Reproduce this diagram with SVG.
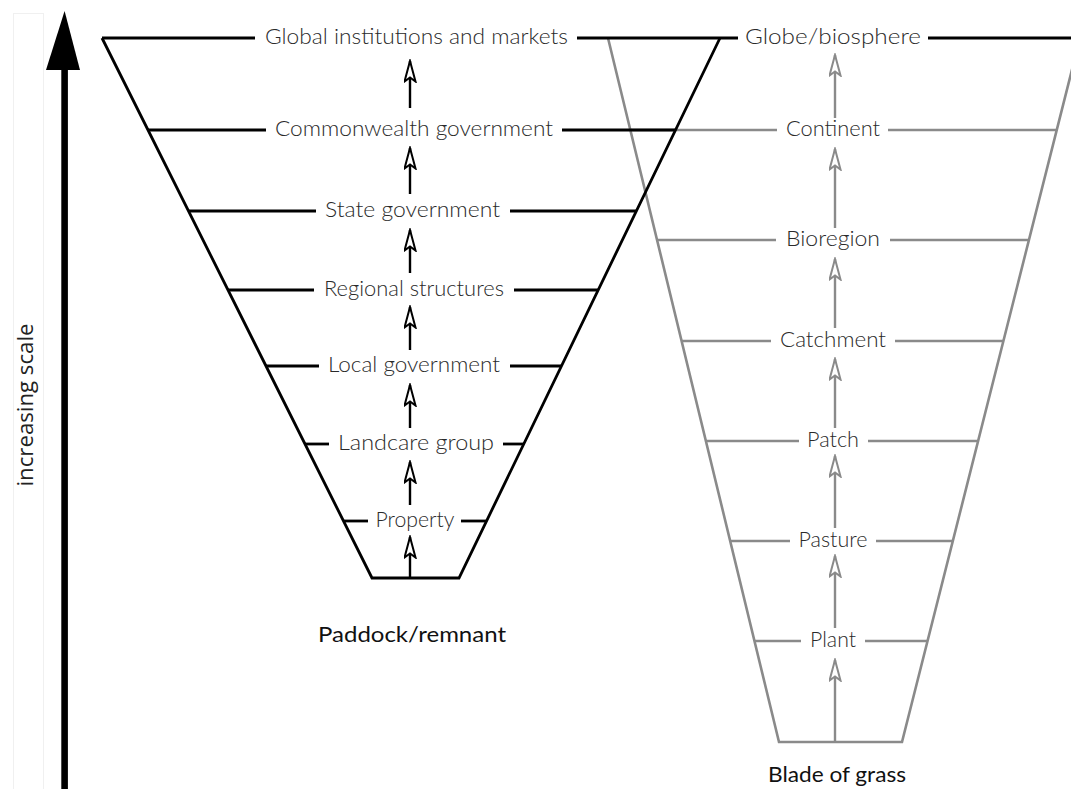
<svg xmlns="http://www.w3.org/2000/svg" width="1071" height="789" viewBox="0 0 1071 789">
  <defs>
    <style>
      .blk { stroke: #000; stroke-width: 2.8; fill: none; }
      .gry { stroke: #8a8a8a; stroke-width: 2.6; fill: none; }
      .lvl { font-family: Lato, "Open Sans", "Liberation Sans", sans-serif; font-weight: 300; font-size: 22px; fill: #2a2a2a; text-anchor: middle; }
      .cap { font-family: Lato, "Open Sans", "Liberation Sans", sans-serif; font-weight: 400; font-size: 21px; fill: #111; text-anchor: middle; }
      .axis { font-family: "Open Sans", "Liberation Sans", sans-serif; font-size: 22px; fill: #222; text-anchor: middle; }
      .ablk { stroke: #000; stroke-width: 2.4; fill: none; marker-end: url(#headBlk); }
      .agry { stroke: #8a8a8a; stroke-width: 2.4; fill: none; marker-end: url(#headGry); }
    </style>
    <!-- open, notched arrowheads -->
    <marker id="headBlk" viewBox="0 0 24 13" refX="22" refY="6.5" markerWidth="24" markerHeight="13" markerUnits="userSpaceOnUse" orient="auto">
      <path d="M22,6.5 L1.5,1 L5.5,6.5 L1.5,12 Z" fill="#fff" stroke="#000" stroke-width="2" stroke-linejoin="miter"/>
    </marker>
    <marker id="headGry" viewBox="0 0 24 13" refX="22" refY="6.5" markerWidth="24" markerHeight="13" markerUnits="userSpaceOnUse" orient="auto">
      <path d="M22,6.5 L1.5,1 L5.5,6.5 L1.5,12 Z" fill="#fff" stroke="#8a8a8a" stroke-width="2" stroke-linejoin="miter"/>
    </marker>
  </defs>

  <rect width="1071" height="789" fill="#fff"/>

  <!-- scale axis -->
  <g id="scale-axis">
    <rect x="13.5" y="13.5" width="30" height="790" fill="none" stroke="#f0f0f0" stroke-width="1"/>
    <rect x="61.3" y="66" width="6.6" height="723" fill="#000"/>
    <polygon points="64.6,11 80,70 46,70" fill="#000"/>
    <text class="axis" transform="translate(33,405) rotate(-90)" textLength="163" lengthAdjust="spacingAndGlyphs">increasing scale</text>
  </g>

  <!-- ecological scale funnel (grey) -->
  <g id="eco-funnel">
    <polyline class="gry" points="608,38 779,742 902,742 1080,38"/>
  </g>
  <g id="eco-continent">
    <line class="gry" x1="630" y1="130" x2="777" y2="130"/>
    <line class="gry" x1="888" y1="130" x2="1057" y2="130"/>
    <text class="lvl" x="833" y="136" textLength="94" lengthAdjust="spacingAndGlyphs">Continent</text>
  </g>
  <g id="eco-bioregion">
    <line class="gry" x1="657" y1="240" x2="776" y2="240"/>
    <line class="gry" x1="890" y1="240" x2="1029" y2="240"/>
    <text class="lvl" x="833" y="246" textLength="94" lengthAdjust="spacingAndGlyphs">Bioregion</text>
  </g>
  <g id="eco-catchment">
    <line class="gry" x1="682" y1="341" x2="771" y2="341"/>
    <line class="gry" x1="895" y1="341" x2="1003" y2="341"/>
    <text class="lvl" x="833" y="347" textLength="106" lengthAdjust="spacingAndGlyphs">Catchment</text>
  </g>
  <g id="eco-patch">
    <line class="gry" x1="706" y1="441" x2="799" y2="441"/>
    <line class="gry" x1="868" y1="441" x2="978" y2="441"/>
    <text class="lvl" x="833" y="447" textLength="52" lengthAdjust="spacingAndGlyphs">Patch</text>
  </g>
  <g id="eco-pasture">
    <line class="gry" x1="730" y1="541" x2="790" y2="541"/>
    <line class="gry" x1="876" y1="541" x2="952" y2="541"/>
    <text class="lvl" x="833" y="547" textLength="69" lengthAdjust="spacingAndGlyphs">Pasture</text>
  </g>
  <g id="eco-plant">
    <line class="gry" x1="754" y1="641" x2="801" y2="641"/>
    <line class="gry" x1="865" y1="641" x2="927" y2="641"/>
    <text class="lvl" x="833" y="647" textLength="46" lengthAdjust="spacingAndGlyphs">Plant</text>
  </g>
  <g id="eco-blade">
    <text class="cap" x="837" y="782" textLength="138" lengthAdjust="spacingAndGlyphs">Blade of grass</text>
  </g>

  <!-- governance scale funnel (black) -->
  <g id="gov-funnel">
    <polyline class="blk" points="720,38 459,578 372,578 102,38"/>
  </g>
  <g id="gov-global">
    <line class="blk" x1="102" y1="38" x2="255" y2="38"/>
    <line class="blk" x1="577" y1="38" x2="738" y2="38"/>
    <text class="lvl" x="416.5" y="44" textLength="303" lengthAdjust="spacingAndGlyphs">Global institutions and markets</text>
  </g>
  <g id="eco-globe">
    <line class="blk" x1="928" y1="38" x2="1071" y2="38"/>
    <text class="lvl" x="833" y="44" textLength="176" lengthAdjust="spacingAndGlyphs">Globe/biosphere</text>
  </g>
  <g id="gov-commonwealth">
    <line class="blk" x1="148" y1="130" x2="266" y2="130"/>
    <line class="blk" x1="562" y1="130" x2="675" y2="130"/>
    <text class="lvl" x="414" y="136" textLength="278" lengthAdjust="spacingAndGlyphs">Commonwealth government</text>
  </g>
  <g id="gov-state">
    <line class="blk" x1="188" y1="211" x2="316" y2="211"/>
    <line class="blk" x1="510" y1="211" x2="636" y2="211"/>
    <text class="lvl" x="412.5" y="217" textLength="175" lengthAdjust="spacingAndGlyphs">State government</text>
  </g>
  <g id="gov-regional">
    <line class="blk" x1="228" y1="290" x2="314" y2="290"/>
    <line class="blk" x1="514" y1="290" x2="598" y2="290"/>
    <text class="lvl" x="414" y="296" textLength="180" lengthAdjust="spacingAndGlyphs">Regional structures</text>
  </g>
  <g id="gov-local">
    <line class="blk" x1="266" y1="366" x2="319" y2="366"/>
    <line class="blk" x1="510" y1="366" x2="561" y2="366"/>
    <text class="lvl" x="414" y="372" textLength="172" lengthAdjust="spacingAndGlyphs">Local government</text>
  </g>
  <g id="gov-landcare">
    <line class="blk" x1="305" y1="444" x2="329" y2="444"/>
    <line class="blk" x1="503" y1="444" x2="524" y2="444"/>
    <text class="lvl" x="416" y="450" textLength="156" lengthAdjust="spacingAndGlyphs">Landcare group</text>
  </g>
  <g id="gov-property">
    <line class="blk" x1="343" y1="521" x2="368" y2="521"/>
    <line class="blk" x1="461" y1="521" x2="487" y2="521"/>
    <text class="lvl" x="415" y="527" textLength="79" lengthAdjust="spacingAndGlyphs">Property</text>
  </g>
  <g id="gov-paddock">
    <text class="cap" x="412" y="642" textLength="188" lengthAdjust="spacingAndGlyphs">Paddock/remnant</text>
  </g>

  <!-- upward links between levels -->
  <g id="connectors">
    <line class="ablk" x1="410" y1="108" x2="410" y2="61"/>
    <line class="ablk" x1="410" y1="194" x2="410" y2="148"/>
    <line class="ablk" x1="410" y1="273" x2="410" y2="230"/>
    <line class="ablk" x1="410" y1="350" x2="410" y2="307"/>
    <line class="ablk" x1="410" y1="428" x2="410" y2="385"/>
    <line class="ablk" x1="410" y1="505" x2="410" y2="462"/>
    <line class="ablk" x1="410" y1="577" x2="410" y2="537"/>

    <line class="agry" x1="835" y1="118" x2="835" y2="55"/>
    <line class="agry" x1="835" y1="228" x2="835" y2="149"/>
    <line class="agry" x1="835" y1="328" x2="835" y2="259"/>
    <line class="agry" x1="835" y1="428" x2="835" y2="359"/>
    <line class="agry" x1="835" y1="528" x2="835" y2="456"/>
    <line class="agry" x1="835" y1="628" x2="835" y2="556"/>
    <line class="agry" x1="835" y1="741" x2="835" y2="660"/>
  </g>
</svg>
